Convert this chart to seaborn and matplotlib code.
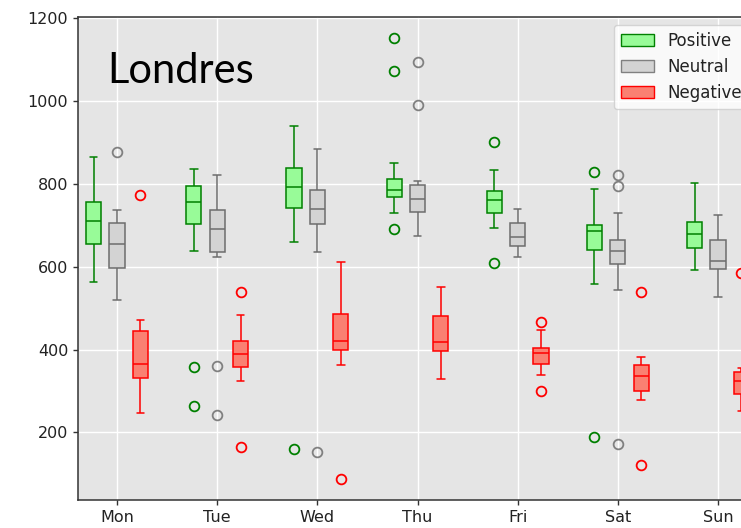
import matplotlib
matplotlib.use('Agg')
import matplotlib.pyplot as plt
from matplotlib.patches import Patch
import pandas as pd
import seaborn as sns

# dias e categorias
days = ['Mon', 'Tue', 'Wed', 'Thu', 'Fri', 'Sat', 'Sun']
sentiments = ['Positive', 'Neutral', 'Negative']

# resumo de cada caixa: bigode inferior, Q1, mediana, Q3, bigode superior
pos_lo = [562, 639, 660, 729, 694, 558, 591]
pos_q1 = [656, 702, 742, 769, 729, 640, 645]
pos_med = [711, 756, 793, 786, 761, 686, 678]
pos_q3 = [756, 796, 838, 811, 782, 700, 709]
pos_hi = [864, 836, 939, 851, 833, 788, 803]
pos_out = [[], [359, 263], [160], [1151, 1072, 691], [900, 609], [828, 190], []]

neu_lo = [520, 623, 636, 673, 624, 545, 527]
neu_q1 = [598, 635, 702, 733, 649, 606, 594]
neu_med = [655, 690, 740, 764, 672, 637, 613]
neu_q3 = [705, 737, 786, 798, 705, 664, 664]
neu_hi = [738, 821, 884, 806, 740, 730, 724]
neu_out = [[878], [360, 243], [152], [1093, 990], [], [822, 794, 173], []]

neg_lo = [246, 325, 363, 330, 339, 278, 251]
neg_q1 = [331, 359, 400, 396, 366, 299, 293]
neg_med = [365, 390, 421, 418, 391, 336, 324]
neg_q3 = [446, 420, 487, 480, 403, 363, 345]
neg_hi = [471, 483, 612, 551, 448, 382, 355]
neg_out = [[772], [538, 164], [88], [], [467, 299], [539, 121], [585]]

stats = {
    'Positive': (pos_lo, pos_q1, pos_med, pos_q3, pos_hi, pos_out),
    'Neutral': (neu_lo, neu_q1, neu_med, neu_q3, neu_hi, neu_out),
    'Negative': (neg_lo, neg_q1, neg_med, neg_q3, neg_hi, neg_out),
}

face = {'Positive': 'palegreen', 'Neutral': 'lightgray', 'Negative': 'salmon'}
edge = {'Positive': 'green', 'Neutral': 'gray', 'Negative': 'red'}

# monta um dataframe longo que reproduz os quartis de cada caixa
rows = []
for s in sentiments:
    lo, q1, med, q3, hi, out = stats[s]
    for i, d in enumerate(days):
        vals = list(out[i]) + [lo[i]] + [q1[i]] * 5 + [med[i]] * 5 + [q3[i]] * 5 + [hi[i]]
        for v in vals:
            rows.append({'day': d, 'sentiment': s, 'value': v})
df = pd.DataFrame(rows)

sns.set_style('darkgrid', {
    'axes.facecolor': '#E5E5E5',
    'axes.edgecolor': '#333333',
    'grid.color': 'white',
    'xtick.bottom': True,
    'ytick.left': True,
    'xtick.color': '#333333',
    'ytick.color': '#333333',
})
plt.rcParams['font.family'] = ['DejaVu Sans']

fig = plt.figure(figsize=(7.41, 5.28), dpi=100)
ax = fig.add_axes([78 / 741, 28 / 528, 679 / 741, 483.5 / 528])

# uma chamada por sentimento para ter cor de borda propria
for s in sentiments:
    sns.boxplot(data=df[df['sentiment'] == s], x='day', y='value', hue='sentiment',
                order=days, hue_order=sentiments, palette=face, saturation=1,
                dodge=True, linecolor=edge[s], linewidth=1.1, width=0.7, gap=0.35,
                flierprops=dict(marker='o', markersize=7, markerfacecolor='none',
                                markeredgecolor=edge[s], markeredgewidth=1.3),
                legend=False, ax=ax)

ax.set_xlim(-0.39, 6.39)
ax.set_ylim(37, 1204)
ax.set_xlabel('')
ax.set_ylabel('')
ax.tick_params(axis='both', labelsize=11.5, length=3.5, width=1, direction='out',
               labelcolor='#222222')
for sp in ax.spines.values():
    sp.set_linewidth(1.1)
ax.grid(True, color='white', linewidth=1)

ax.text(0.043, 0.862, 'Londres', transform=ax.transAxes, fontsize=30,
        family='Lato', va='baseline', ha='left', color='black')

handles = [Patch(facecolor=face[s], edgecolor=edge[s], label=s) for s in sentiments]
ax.legend(handles=handles, loc='upper right', fontsize=12, facecolor='white',
          framealpha=0.8, labelcolor='#222222')

fig.savefig('out.png', dpi=100)
